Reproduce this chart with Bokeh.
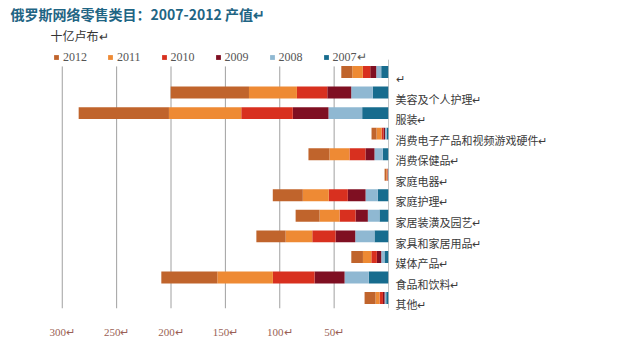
from bokeh.plotting import figure
from bokeh.models import (Range1d, FixedTicker, Legend, LegendItem, Title,
                          ColumnDataSource)
from bokeh.embed import file_html
from bokeh.resources import INLINE

# ---- data (十亿卢布) ----
categories = ["↵", "美容及个人护理↵", "服装↵", "消费电子产品和视频游戏硬件↵", "消费保健品↵",
              "家庭电器↵", "家庭护理↵", "家居装潢及园艺↵", "家具和家居用品↵", "媒体产品↵",
              "食品和饮料↵", "其他↵"]
y2007 = [6.7, 14.4, 24.2, 1.8, 5.2, 0.3, 9.8, 8.3, 12.9, 3.7, 18.1, 2.1]
y2008 = [4.6, 19.9, 31.0, 1.4, 7.7, 0.3, 11.3, 10.7, 17.7, 3.0, 22.3, 1.5]
y2009 = [5.5, 22.0, 32.8, 1.4, 8.3, 0.3, 16.3, 11.3, 18.1, 4.0, 27.6, 1.5]
y2010 = [6.8, 27.9, 47.4, 1.8, 14.7, 0.4, 17.5, 14.7, 21.4, 5.1, 38.3, 3.1]
y2011 = [9.7, 44.1, 66.5, 4.6, 18.4, 0.8, 23.9, 18.4, 24.5, 7.7, 51.1, 3.7]
y2012 = [10.1, 72.0, 83.0, 4.6, 19.3, 1.5, 27.6, 22.0, 26.9, 10.7, 51.5, 10.1]
years = ["2007", "2008", "2009", "2010", "2011", "2012"]
legend_labels = {"2012": "2012", "2011": "2011", "2010": "2010",
                 "2009": "2009", "2008": "2008", "2007": "2007↵"}
x_ticks = [300, 250, 200, 150, 100, 50]
x_tick_labels = ["300↵", "250↵", "200↵", "150↵", "100↵", "50↵"]

colors = ["#176C8E", "#8FB8D2", "#7F0F22", "#D8301F", "#EE8A34", "#C0642C"]

rows = list(range(len(categories)))
source = ColumnDataSource(dict(row=rows, y2007=y2007, y2008=y2008, y2009=y2009,
                               y2010=y2010, y2011=y2011, y2012=y2012))

Y_TOP, Y_BOTTOM = -1.338, 11.51
p = figure(frame_width=348, frame_height=264, output_backend="svg", toolbar_location=None,
           x_range=Range1d(320, 0), y_range=Range1d(Y_BOTTOM, Y_TOP),
           y_axis_location="right", title=None,
           min_border_left=40, min_border_right=244, min_border_top=44,
           min_border_bottom=41)
p.outline_line_color = None
p.background_fill_color = "white"

# vertical grid lines (below the legend row) and the value axis line
grid_top = -0.27
p.segment(x0=x_ticks, x1=x_ticks, y0=[grid_top] * len(x_ticks), y1=[Y_BOTTOM] * len(x_ticks),
          line_color="#A0A0A0", line_width=1)
p.segment(x0=[0], x1=[0], y0=[-0.6], y1=[Y_BOTTOM], line_color="#8C8C8C", line_width=1)

renderers = p.hbar_stack(["y" + y for y in years], y="row", height=0.58,
                         color=colors, source=source, line_color=None)

# x axis (reversed, below)
p.xaxis.ticker = FixedTicker(ticks=x_ticks)
p.xaxis.major_label_overrides = {t: l for t, l in zip(x_ticks, x_tick_labels)}
p.xaxis.axis_line_color = None
p.xaxis.major_tick_line_color = None
p.xaxis.minor_tick_line_color = None
p.xaxis.major_label_standoff = 11
p.xaxis.major_label_text_font = "Liberation Serif"
p.xaxis.major_label_text_font_size = "11px"
p.xaxis.major_label_text_color = "#9A5F55"
p.xgrid.grid_line_color = None
p.ygrid.grid_line_color = None

# category axis on the right
label_ticks = [r + 0.3 for r in rows]
p.yaxis.ticker = FixedTicker(ticks=label_ticks)
p.yaxis.major_label_overrides = {t: c for t, c in zip(label_ticks, categories)}
p.yaxis.axis_line_color = None
p.yaxis.major_tick_line_color = None
p.yaxis.minor_tick_line_color = None
p.yaxis.major_label_standoff = 1
p.yaxis.major_label_text_font = "Noto Sans CJK SC"
p.yaxis.major_label_text_font_size = "11px"
p.yaxis.major_label_text_color = "#3A3A3A"

# legend (2012 ... 2007), inside the top strip of the frame
items = []
for y in reversed(years):
    r = renderers[years.index(y)]
    items.append(LegendItem(label=legend_labels[y], renderers=[r]))
legend = Legend(items=items, orientation="horizontal", location=(13, 242),
                glyph_width=6, glyph_height=6, label_standoff=4, spacing=20,
                padding=0, margin=0, label_height=18,
                label_text_font="Liberation Serif", label_text_font_size="12px",
                label_text_color="#555555", border_line_color=None,
                background_fill_alpha=0)
p.add_layout(legend)

p.add_layout(Title(text="十亿卢布↵", align="left", offset=10, standoff=1,
                   text_font="Noto Sans CJK SC", text_font_size="12px",
                   text_font_style="normal", text_color="#333333"), "above")
p.add_layout(Title(text="俄罗斯网络零售类目：2007-2012 产值↵", align="left", offset=-30,
                   standoff=2, text_font="Noto Sans CJK SC", text_font_size="14px",
                   text_font_style="bold", text_color="#1F6584"), "above")

open("out.html", "w").write(file_html(p, INLINE))
